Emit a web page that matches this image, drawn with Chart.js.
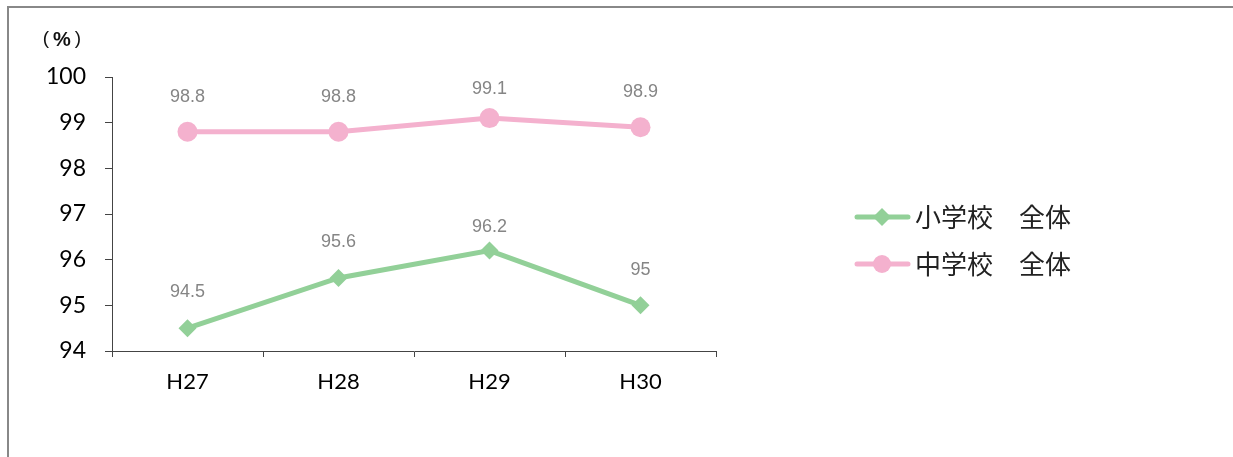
<!DOCTYPE html>
<html>
<head>
<meta charset="utf-8">
<script src="https://cdn.jsdelivr.net/npm/chart.js@4"></script>
<style>
  body { margin: 0; background: #fff; }
  #wrap { position: relative; width: 1233px; height: 457px; }
  #frame { position: absolute; left: 7px; top: 6px; right: -5px; bottom: -5px; border: 2px solid #888; }
  canvas { position: absolute; left: 0; top: 0; }
</style>
</head>
<body>
<div id="wrap">
  <div id="frame"></div>
  <canvas id="rate-chart" width="1233" height="457"></canvas>
</div>
<script>
const years = ['H27', 'H28', 'H29', 'H30'];
const elementaryValues = [94.5, 95.6, 96.2, 95];
const juniorValues = [98.8, 98.8, 99.1, 98.9];
const seriesNames = ['小学校　全体', '中学校　全体'];
const yTicks = [94, 95, 96, 97, 98, 99, 100];

const green = 'rgb(146, 208, 152)';
const pink = 'rgb(244, 177, 206)';

// distance of each value label above its point (px), per series
const labelGaps = [[36, 36, 24, 35], [35, 35, 29, 35]];

// value labels above each point
const valueLabels = {
    id: 'valueLabels',
    afterDatasetsDraw(chart) {
        const ctx = chart.ctx;
        ctx.save();
        ctx.font = '18px "Liberation Sans", Arial, sans-serif';
        ctx.fillStyle = '#858585';
        ctx.textAlign = 'center';
        ctx.textBaseline = 'middle';
        chart.data.datasets.forEach((ds, i) => {
            chart.getDatasetMeta(i).data.forEach((pt, j) => {
                ctx.fillText(String(ds.data[j]), pt.x, pt.y - labelGaps[i][j]);
            });
        });
        ctx.restore();
    }
};

// legend on the right with line + marker, plus the unit label
const sideLegend = {
    id: 'sideLegend',
    afterDraw(chart) {
        const ctx = chart.ctx;
        const rows = [217, 264];
        ctx.save();
        chart.data.datasets.forEach((ds, i) => {
            const y = rows[i];
            ctx.strokeStyle = ds.borderColor;
            ctx.lineWidth = 5;
            ctx.lineCap = 'round';
            ctx.beginPath();
            ctx.moveTo(857, y);
            ctx.lineTo(908, y);
            ctx.stroke();
            ctx.fillStyle = ds.borderColor;
            Chart.helpers.drawPoint(ctx, {
                pointStyle: ds.pointStyle,
                radius: 9,
                borderWidth: 0
            }, 882, y);
            ctx.fillStyle = '#222';
            ctx.font = '26px "Noto Sans CJK JP", sans-serif';
            ctx.textAlign = 'left';
            ctx.textBaseline = 'middle';
            ctx.fillText(ds.label, 915, y);
        });
        // unit label （%）
        ctx.fillStyle = '#111';
        ctx.textAlign = 'center';
        ctx.textBaseline = 'middle';
        ctx.font = '19px "Liberation Sans", Arial, sans-serif';
        ctx.fillText('(', 46, 39);
        ctx.fillText(')', 78, 39);
        ctx.font = 'bold 20px "Liberation Sans", Arial, sans-serif';
        ctx.fillText('%', 62, 40);
        ctx.restore();
    }
};

const rateChart = new Chart(document.getElementById('rate-chart'), {
    type: 'line',
    data: {
        labels: years,
        datasets: [{
            label: seriesNames[0],
            data: elementaryValues,
            borderColor: green,
            backgroundColor: green,
            borderWidth: 5,
            pointStyle: 'rectRot',
            pointRadius: 9,
            pointBorderWidth: 0,
            tension: 0
        }, {
            label: seriesNames[1],
            data: juniorValues,
            borderColor: pink,
            backgroundColor: pink,
            borderWidth: 5,
            pointStyle: 'circle',
            pointRadius: 10,
            pointBorderWidth: 0,
            tension: 0
        }]
    },
    options: {
        responsive: false,
        animation: false,
        layout: { padding: { left: 0, top: 77, right: 517, bottom: 0 } },
        plugins: {
            legend: { display: false },
            tooltip: { enabled: false }
        },
        scales: {
            x: {
                offset: true,
                grid: { display: true, drawOnChartArea: false, offset: true, tickLength: 6, color: '#444' },
                border: { display: true, color: '#444', width: 1 },
                ticks: {
                    color: '#000',
                    font: { family: 'Lato, sans-serif', size: 22 },
                    padding: 12,
                    maxRotation: 0
                },
                afterFit(scale) { scale.height = 106; }
            },
            y: {
                min: 94,
                max: 100,
                afterBuildTicks(scale) { scale.ticks = yTicks.map(v => ({ value: v })); },
                grid: { display: true, drawOnChartArea: false, tickLength: 7, color: '#444' },
                border: { display: true, color: '#444', width: 1 },
                ticks: {
                    color: '#000',
                    font: { family: 'Lato, sans-serif', size: 23 },
                    padding: 19
                },
                afterFit(scale) { scale.width = 112; }
            }
        }
    },
    plugins: [valueLabels, sideLegend]
});
</script>
</body>
</html>
